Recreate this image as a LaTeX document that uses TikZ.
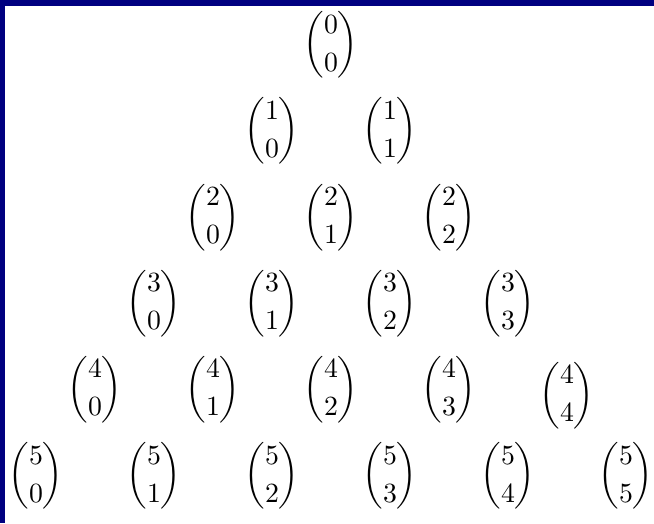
\documentclass[tikz,border=0pt]{standalone}
\usepackage{amsmath}
\definecolor{framenavy}{RGB}{0,0,128}
\tikzset{
  coeff/.style={inner sep=0pt, text centered},
}

\begin{document}
\begin{tikzpicture}[x=0.36pt, y=-0.36pt]

  % frame: navy on the left and top only
  \fill[framenavy] (0,0) rectangle (654,523);
  \fill[white] (5,6) rectangle (654,523);

  % rows of the triangle
  \foreach \n in {0,...,5} {
    \foreach \k in {0,...,\n} {
      \node[coeff] (c\n\k) at ({331+(\k-\n/2)*118},{45+\n*86.2+6*and(\n==4,\k==4)})
        {$\displaystyle\binom{\n}{\k}$};
    }
  }

\end{tikzpicture}
\end{document}
